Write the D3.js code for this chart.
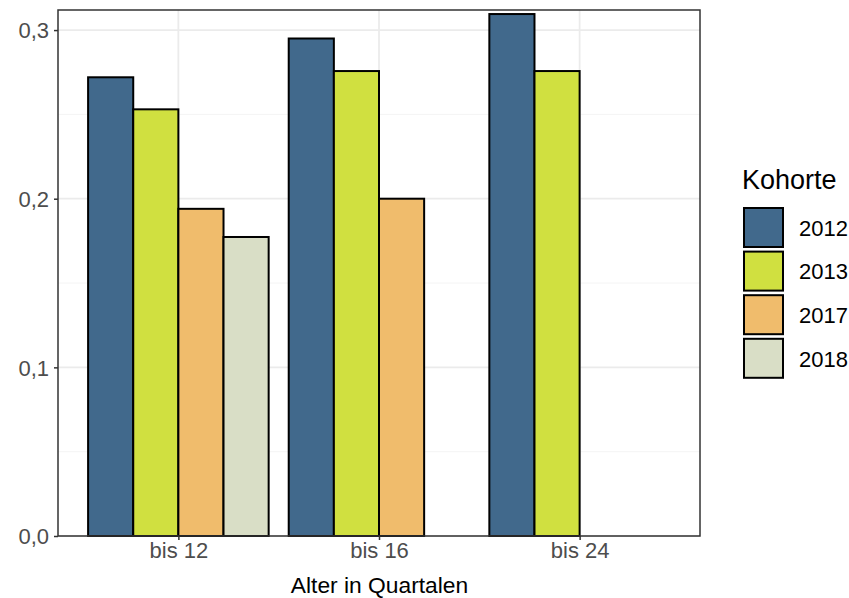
<!DOCTYPE html>
<html><head><meta charset="utf-8">
<script src="https://cdn.jsdelivr.net/npm/d3@7"></script>
<style>body{margin:0;background:#fff}svg{display:block;font-family:"Liberation Sans",Arial,sans-serif}</style>
</head><body><svg id="c" width="849" height="598"></svg>
<script>
const categories = ["bis 12", "bis 16", "bis 24"];
const cohorts = ["2012", "2013", "2017", "2018"];
const colors = ["#41698C", "#D0E040", "#F0BC6C", "#D9DEC6"];
const v2012 = [0.272, 0.295, 0.3095];
const v2013 = [0.253, 0.2757, 0.2757];
const v2017 = [0.194, 0.2, null];
const v2018 = [0.1773, null, null];
const yTicks = [0, 0.1, 0.2, 0.3];
const yMinor = [0.05, 0.15, 0.25];
const series = [v2012, v2013, v2017, v2018];

const svg = d3.select("#c");
const L = 58, R = 700, T = 10, B = 536;
const step = (R - L) / 3.2;
const xs = d3.scalePoint().domain(categories).range([L + 0.6 * step, R - 0.6 * step]);
const inner = d3.scaleBand().domain(cohorts).range([-0.45 * step, 0.45 * step]);
const y = d3.scaleLinear().domain([0, 0.3119]).range([B, T]);
const fmt = d => d3.format(".1f")(d).replace(".", ",");

const g = svg.append("g");
g.selectAll(".mn").data(yMinor).join("line").attr("x1", L).attr("x2", R)
 .attr("y1", d => y(d)).attr("y2", d => y(d)).attr("stroke", "#F4F4F4").attr("stroke-width", 1);
g.selectAll(".mj").data(yTicks).join("line").attr("x1", L).attr("x2", R)
 .attr("y1", d => y(d)).attr("y2", d => y(d)).attr("stroke", "#EBEBEB").attr("stroke-width", 1.8);
g.selectAll(".vx").data(categories).join("line").attr("x1", d => xs(d)).attr("x2", d => xs(d))
 .attr("y1", T).attr("y2", B).attr("stroke", "#EBEBEB").attr("stroke-width", 1.8);

const bars = [];
categories.forEach((c, i) => cohorts.forEach((k, j) => {
  const v = series[j][i];
  if (v != null) bars.push({c, k, v, col: colors[j]});
}));
g.selectAll(".bar").data(bars).join("rect")
 .attr("x", d => xs(d.c) + inner(d.k)).attr("width", inner.bandwidth())
 .attr("y", d => y(d.v)).attr("height", d => y(0) - y(d.v))
 .attr("fill", d => d.col).attr("stroke", "#000").attr("stroke-width", 2);

svg.append("rect").attr("x", L).attr("y", T).attr("width", R - L).attr("height", B - T)
 .attr("fill", "none").attr("stroke", "#333").attr("stroke-width", 1.5);

const ya = svg.append("g").attr("transform", `translate(${L},0)`)
 .call(d3.axisLeft(y).tickValues(yTicks).tickFormat(fmt).tickSize(4).tickPadding(5));
ya.select(".domain").remove();
ya.selectAll("line").attr("stroke", "#333").attr("stroke-width", 1.5);
ya.selectAll("text").attr("fill", "#4D4D4D").style("font-size", "22px").attr("dy", "0.35em");

const xa = svg.append("g").attr("transform", `translate(0,${B})`)
 .call(d3.axisBottom(xs).tickSize(4).tickPadding(3));
xa.select(".domain").remove();
xa.selectAll("line").attr("stroke", "#333").attr("stroke-width", 1.5);
xa.selectAll("text").attr("fill", "#4D4D4D").style("font-size", "22px").attr("dy", "0.7em");

svg.append("text").attr("x", (L + R) / 2 + 0.5).attr("y", 593).attr("text-anchor", "middle")
 .style("font-size", "22.8px").attr("fill", "#000").text("Alter in Quartalen");

const lg = svg.append("g");
lg.append("text").attr("x", 742).attr("y", 189).style("font-size", "27px").text("Kohorte");
const ky = cohorts.map((k, i) => 207 + i * 43.6);
lg.selectAll(".k").data(cohorts).join("rect")
 .attr("x", 744).attr("y", (d, i) => ky[i] + 1).attr("width", 39).attr("height", 39)
 .attr("fill", (d, i) => colors[i]).attr("stroke", "#000").attr("stroke-width", 2);
lg.selectAll(".kt").data(cohorts).join("text")
 .attr("x", 799).attr("y", (d, i) => ky[i] + 21).attr("dy", "0.35em")
 .style("font-size", "22px").attr("fill", "#000").text(d => d);
</script></body></html>
